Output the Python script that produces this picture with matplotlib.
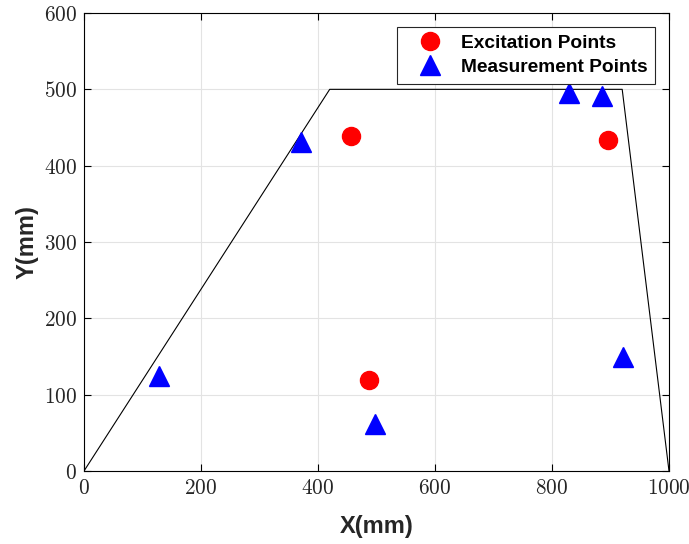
import matplotlib
matplotlib.use("Agg")
import matplotlib.pyplot as plt
from matplotlib.ticker import FuncFormatter

outline_x = [0, 420, 920, 1000]
outline_y = [0, 500, 500, 0]
exc_x = [457, 487, 896]
exc_y = [439, 119, 434]
meas_x = [129, 371, 497, 829, 885, 921]
meas_y = [125, 431, 62, 495, 491, 150]
xticks = [0, 200, 400, 600, 800, 1000]
yticks = [0, 100, 200, 300, 400, 500, 600]

plt.rcParams['mathtext.fontset'] = 'cm'
fig = plt.figure(figsize=(6.89, 5.44), dpi=100)
ax = fig.add_axes([84/689, 73/544, 585/689, 458/544])
ax.plot(outline_x, outline_y, color='black', lw=0.8, zorder=2)
ax.plot(exc_x, exc_y, 'o', color='red', ms=13, ls='none', label='Excitation Points', zorder=3)
ax.plot(meas_x, meas_y, '^', color='blue', ms=14, ls='none', label='Measurement Points', zorder=3)
ax.set_xlim(0, 1000)
ax.set_ylim(0, 600)
ax.set_xticks(xticks)
ax.set_yticks(yticks)
fmt = FuncFormatter(lambda v, p: r'$%d$' % v)
ax.xaxis.set_major_formatter(fmt)
ax.yaxis.set_major_formatter(fmt)
ax.tick_params(direction='in', top=True, right=True, labelsize=15.3, length=5, width=0.8,
               labelcolor='#262626', pad=5)
ax.grid(True, color='#e3e3e3', lw=0.8)
ax.set_axisbelow(True)
for s in ax.spines.values():
    s.set_linewidth(0.8)
lab = dict(family='Liberation Sans', weight='bold', size=17, color='#262626')
ax.set_xlabel('X(mm)', labelpad=12, **lab)
ax.set_ylabel('Y(mm)', labelpad=4, **lab)
leg = ax.legend(loc='upper right', bbox_to_anchor=(0.976, 0.97), prop=dict(family='Liberation Sans', weight='bold', size=13.8),
                fancybox=False, edgecolor='#262626', framealpha=1, borderpad=0.4, labelspacing=0.35, handletextpad=0.3,
                borderaxespad=0, handlelength=2.64)
leg.get_frame().set_linewidth(0.8)
fig.savefig('out.png', dpi=100)
